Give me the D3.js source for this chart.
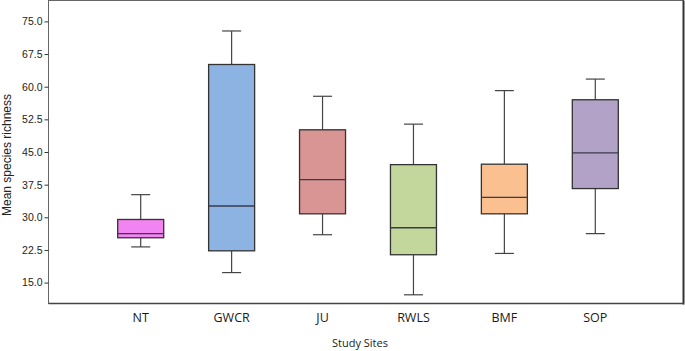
<!DOCTYPE html>
<html><head><meta charset="utf-8">
<script src="https://cdn.jsdelivr.net/npm/d3@7"></script>
<style>body{margin:0;background:#fff}svg{display:block}</style>
</head><body>
<svg id="c" width="685" height="351"></svg>
<script>
const categories = ["NT","GWCR","JU","RWLS","BMF","SOP"];
const whiskerLow  = [23.2, 17.3, 26.0, 12.2, 21.7, 26.25];
const q1          = [25.3, 22.3, 30.8, 21.4, 30.8, 36.6];
const median      = [26.25, 32.6, 38.65, 27.6, 34.6, 44.8];
const q3          = [29.5, 65.1, 50.1, 42.1, 42.2, 57.0];
const whiskerHigh = [35.2, 72.8, 57.8, 51.4, 59.1, 61.75];
const colors      = ["#f184f0","#8db3e2","#d99594","#c3d69b","#fac090","#b3a2c7"];
const yTicks      = [15.0, 22.5, 30.0, 37.5, 45.0, 52.5, 60.0, 67.5, 75.0];

const svg = d3.select("#c");
const L = 48.5, R = 683.5, T = 0.5, B = 303.5;
const y = d3.scaleLinear().domain([10.2, 79.8]).range([B, T]);
const x = d3.scalePoint().domain(categories).range([140.7, 595.3]);
const bw = 46, cw = 19;

// frame
svg.append("rect").attr("x", L).attr("y", T).attr("width", R - L).attr("height", B - T)
  .attr("fill", "none").attr("stroke", "#666").attr("stroke-width", 1);
svg.append("line").attr("x1", R).attr("x2", R).attr("y1", T).attr("y2", B + 1).attr("stroke", "#333").attr("stroke-width", 2);
svg.append("line").attr("x1", L).attr("x2", R).attr("y1", B).attr("y2", B).attr("stroke", "#444").attr("stroke-width", 1.6);

// y axis
const yAxis = d3.axisLeft(y).tickValues(yTicks).tickFormat(d3.format(".1f")).tickSize(4).tickPadding(2);
const ga = svg.append("g").attr("transform", `translate(${L},0)`).call(yAxis);
ga.select(".domain").remove();
ga.selectAll(".tick line").attr("stroke", "#333");
ga.selectAll(".tick text").attr("font-family", "Liberation Sans, Arial, sans-serif").attr("font-size", 10.5).attr("fill", "#222");

svg.append("text").attr("transform", "translate(11,155) rotate(-90)")
  .attr("text-anchor", "middle").attr("font-family", "Liberation Sans, Arial, sans-serif")
  .attr("font-size", 12).attr("fill", "#222").text("Mean  species richness");

// x labels
svg.selectAll(".xl").data(categories).enter().append("text")
  .attr("x", d => x(d)).attr("y", 322).attr("text-anchor", "middle")
  .attr("font-family", "Open Sans, Liberation Sans, sans-serif").attr("font-size", 12.5).attr("fill", "#1a1a1a")
  .text(d => d);
svg.append("text").attr("x", 360).attr("y", 347).attr("text-anchor", "middle")
  .attr("font-family", "Open Sans, Liberation Sans, sans-serif").attr("font-size", 11).attr("fill", "#222")
  .text("Study Sites");

// boxes
const g = svg.selectAll(".box").data(categories).enter().append("g");
g.append("line").attr("x1", d => x(d)).attr("x2", d => x(d))
  .attr("y1", (d,i) => y(whiskerHigh[i])).attr("y2", (d,i) => y(q3[i])).attr("stroke", "#444").attr("stroke-width", 1.2);
g.append("line").attr("x1", d => x(d)).attr("x2", d => x(d))
  .attr("y1", (d,i) => y(q1[i])).attr("y2", (d,i) => y(whiskerLow[i])).attr("stroke", "#444").attr("stroke-width", 1.2);
g.append("line").attr("x1", d => x(d) - cw/2).attr("x2", d => x(d) + cw/2)
  .attr("y1", (d,i) => y(whiskerHigh[i])).attr("y2", (d,i) => y(whiskerHigh[i])).attr("stroke", "#444").attr("stroke-width", 1.2);
g.append("line").attr("x1", d => x(d) - cw/2).attr("x2", d => x(d) + cw/2)
  .attr("y1", (d,i) => y(whiskerLow[i])).attr("y2", (d,i) => y(whiskerLow[i])).attr("stroke", "#444").attr("stroke-width", 1.2);
g.append("rect").attr("x", d => x(d) - bw/2).attr("width", bw)
  .attr("y", (d,i) => y(q3[i])).attr("height", (d,i) => y(q1[i]) - y(q3[i]))
  .attr("fill", (d,i) => colors[i]).attr("stroke", "#333").attr("stroke-width", 1.3);
g.append("line").attr("x1", d => x(d) - bw/2).attr("x2", d => x(d) + bw/2)
  .attr("y1", (d,i) => y(median[i])).attr("y2", (d,i) => y(median[i])).attr("stroke", "#3a3a4a").attr("stroke-width", 1.3);
</script>
</body></html>
